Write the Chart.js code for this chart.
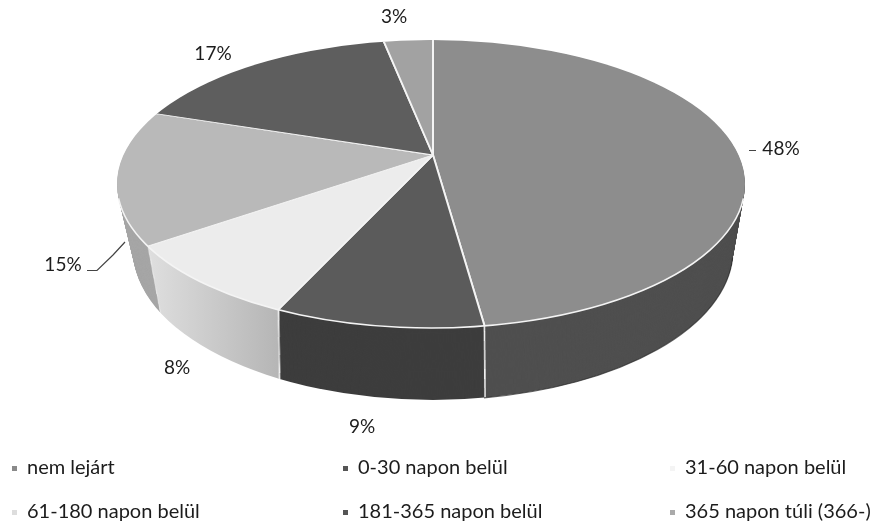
<!DOCTYPE html>
<html>
<head>
<meta charset="utf-8">
<style>
  html, body { margin: 0; padding: 0; background: #fff; }
  canvas { display: block; }
</style>
</head>
<body>
<canvas id="grafica" width="876" height="528"></canvas>
<script src="https://cdn.jsdelivr.net/npm/chart.js@4"></script>
<script>
const categories = ['nem lejárt', '0-30 napon belül', '31-60 napon belül', '61-180 napon belül', '181-365 napon belül', '365 napon túli (366-)'];
const shares = [47.9, 8.7, 8.4, 15.2, 16.8, 3];

const faceColors = ['#8d8d8d', '#5b5b5b', '#ececec', '#b9b9b9', '#5e5e5e', '#a2a2a2'];
const wallColors = ['#4f4f4f', '#3d3d3d', '#c6c6c6', '#a6a6a6', '#3d3d3d', '#6a6a6a'];
const markerColors = ['#8a8a8a', '#555555', '#f4f4f4', '#dddddd', '#555555', '#aaaaaa'];

// where the percent labels and legend rows sit in the picture
const labelSpots = [[781, 149], [362, 427], [177, 368], [63, 265], [213, 54], [394, 17]];
const legendSpots = [[27, 468], [358, 468], [685, 468], [27, 512], [358, 512], [685, 512]];

// the pie is drawn flat and squashed, the rim is an ellipse around a shifted centre
const apex = { x: 433, y: 155, squash: 0.44 };
const topRim = { x: 431, y: 184, rx: 314, ry: 144 };
const bottomRim = { x: 433, y: 250, rx: 300, ry: 150 };
const apexDrop = 70;

function ellipsePath(ctx, e) {
  ctx.beginPath();
  ctx.ellipse(e.x, e.y, e.rx, e.ry, 0, 0, Math.PI * 2);
}

function squash(ctx, arc, drop) {
  ctx.translate(apex.x, apex.y + drop);
  ctx.scale(1, apex.squash);
  ctx.translate(-arc.x, -arc.y);
}

const pie3d = {
  id: 'pie3d',
  beforeDatasetsDraw(chart) {
    const ctx = chart.ctx;
    const arcs = chart.getDatasetMeta(0).data;
    // 8% wall fades from light to darker towards its right seam
    const fade = ctx.createLinearGradient(arcs[0].x - 283, 0, arcs[0].x - 156, 0);
    fade.addColorStop(0, '#dedede');
    fade.addColorStop(1, '#b6b6b6');
    // side wall: stack of rim layers from the bottom up
    for (let d = apexDrop; d > 0; d--) {
      const t = d / apexDrop;
      ctx.save();
      ellipsePath(ctx, {
        x: topRim.x + (bottomRim.x - topRim.x) * t,
        y: topRim.y + (bottomRim.y - topRim.y) * t,
        rx: topRim.rx + (bottomRim.rx - topRim.rx) * t,
        ry: topRim.ry + (bottomRim.ry - topRim.ry) * t
      });
      ctx.clip();
      squash(ctx, arcs[0], d);
      arcs.forEach((arc, i) => {
        const saved = arc.options;
        arc.options = {
          backgroundColor: i === 2 ? fade : wallColors[i], borderColor: '#f2f2f2', borderWidth: 1.5,
          borderAlign: 'center', borderJoinStyle: 'round', circular: true,
          offset: 0, spacing: 0, borderRadius: 0
        };
        arc.draw(ctx);
        arc.options = saved;
      });
      ctx.restore();
    }
    // dark lower edge on the right part of the wall
    ctx.strokeStyle = 'rgba(40,40,40,0.7)';
    ctx.lineWidth = 1.2;
    ctx.beginPath();
    ctx.ellipse(bottomRim.x, bottomRim.y, bottomRim.rx, bottomRim.ry, 0, 0.05, 1.4);
    ctx.stroke();

    ctx.save();
    ellipsePath(ctx, topRim);
    ctx.clip();
    squash(ctx, arcs[0], 0);
  },
  afterDatasetsDraw(chart) {
    const ctx = chart.ctx;
    ctx.restore();
    ctx.strokeStyle = '#f4f4f4';
    ctx.lineWidth = 1.6;
    ctx.beginPath();
    ctx.ellipse(topRim.x, topRim.y, topRim.rx, topRim.ry, 0, 0.1, Math.PI - 0.1);
    ctx.stroke();
  },
  afterDraw(chart) {
    const ctx = chart.ctx;
    ctx.save();
    ctx.fillStyle = '#1c1c1c';
    ctx.font = '19px Lato';
    ctx.textBaseline = 'middle';
    ctx.textAlign = 'center';
    shares.forEach((v, i) => ctx.fillText(Math.round(v) + '%', labelSpots[i][0], labelSpots[i][1]));

    // leader lines
    ctx.strokeStyle = '#444';
    ctx.lineWidth = 1.2;
    ctx.beginPath();
    ctx.moveTo(87, 270.5); ctx.lineTo(97, 270.5); ctx.lineTo(113, 255); ctx.lineTo(125, 242);
    ctx.moveTo(749, 150.5); ctx.lineTo(756, 150.5);
    ctx.stroke();

    ctx.font = '20px Lato';
    ctx.textAlign = 'left';
    categories.forEach((c, i) => {
      const s = legendSpots[i];
      ctx.fillStyle = markerColors[i];
      ctx.fillRect(s[0] - 15, s[1] - 2, 5, 5);
      ctx.fillStyle = '#1c1c1c';
      ctx.fillText(c, s[0], s[1]);
    });
    ctx.restore();
  }
};

new Chart(document.getElementById('grafica'), {
  type: 'pie',
  data: {
    labels: categories,
    datasets: [{
      data: shares,
      backgroundColor: faceColors,
      borderColor: '#f4f4f4',
      borderWidth: 2,
      clip: false
    }]
  },
  options: {
    responsive: false,
    animation: false,
    radius: 460,
    events: [],
    plugins: { legend: { display: false }, tooltip: { enabled: false } }
  },
  plugins: [pie3d]
});
</script>
</body>
</html>
